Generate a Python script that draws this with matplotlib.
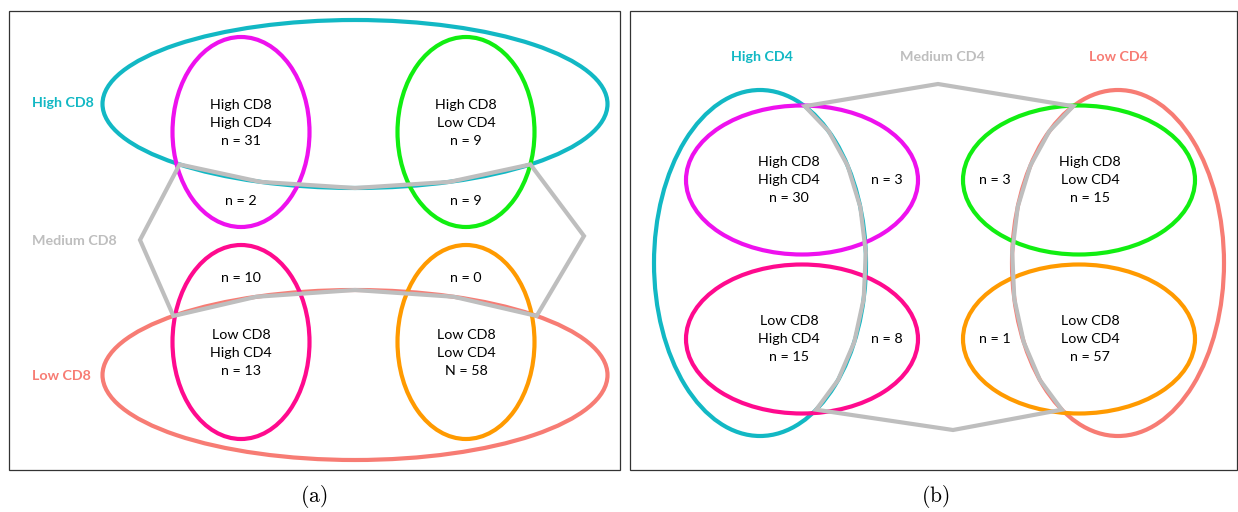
import numpy as np
import matplotlib
matplotlib.use("Agg")
import matplotlib.pyplot as plt
from matplotlib.patches import Ellipse, Rectangle, Polygon

# ---------------- data ----------------
a_group_labels = ["High CD8", "Medium CD8", "Low CD8"]
b_group_labels = ["High CD4", "Medium CD4", "Low CD4"]

# panel (a): columns = High CD4, Low CD4
a_high_cd8 = [31, 9]
a_medium_upper = [2, 9]
a_medium_lower = [10, 0]
a_low_cd8 = [13, 58]
a_cell_titles_top = ["High CD8\nHigh CD4", "High CD8\nLow CD4"]
a_cell_titles_bottom = ["Low CD8\nHigh CD4", "Low CD8\nLow CD4"]
a_n_symbol_bottom = ["n", "N"]

# panel (b): rows = High CD8, Low CD8
b_high_cd8 = [30, 15]
b_medium_top = [3, 3]
b_low_cd8 = [15, 57]
b_medium_bottom = [8, 1]
b_cell_titles_top = ["High CD8\nHigh CD4", "High CD8\nLow CD4"]
b_cell_titles_bottom = ["Low CD8\nHigh CD4", "Low CD8\nLow CD4"]

# ---------------- styles ----------------
C_CYAN = "#12B8C4"
C_SALMON = "#F77C74"
C_GRAY = "#BEBEBE"
C_MAG = "#EE11EE"
C_GREEN = "#11EE11"
C_PINK = "#FF0A8E"
C_ORANGE = "#FF9A00"
LW = 3.0
FONT = "Lato"
FS = 10.3

fig = plt.figure(figsize=(12.38, 5.12), dpi=100)
ax = fig.add_axes([0, 0, 1, 1])
ax.set_xlim(0, 1238)
ax.set_ylim(512, 0)
ax.axis("off")


def ell(cx, cy, w, h, color, z=2):
    ax.add_patch(Ellipse((cx, cy), w, h, fill=False, ec=color, lw=LW, zorder=z))


def ell_pts(cx, cy, w, h, t):
    return np.column_stack([cx + w / 2 * np.cos(t), cy + h / 2 * np.sin(t)])


def txt(x, y, s, color="black", bold=False, ha="center"):
    ax.text(x, y, s, ha=ha, va="center", fontsize=FS, family=FONT, color=color,
            fontweight="bold" if bold else "normal", linespacing=1.6,
            multialignment="center", zorder=5)


# ---------------- panel (a) ----------------
ax.add_patch(Rectangle((8.5, 10.5), 611, 459, fill=False, ec="#333333", lw=0.9, zorder=1))

big_a = dict(cx=355, w=505, h=168)
hi_cy, lo_cy = 104, 375
col_x = [241, 466]
ell(big_a["cx"], hi_cy, big_a["w"], big_a["h"], C_CYAN)
ell(big_a["cx"], lo_cy, big_a["w"], 170, C_SALMON)
small_colors_a = [[C_MAG, C_GREEN], [C_PINK, C_ORANGE]]
for j, x in enumerate(col_x):
    ell(x, 132, 137, 190, small_colors_a[0][j], z=3)
    ell(x, 342, 137, 194, small_colors_a[1][j], z=3)

# medium CD8 polygon: bottom arc of high ellipse, top arc of low ellipse
t_top = np.linspace(np.deg2rad(134), np.deg2rad(46), 5)
arc_hi = ell_pts(big_a["cx"], hi_cy, big_a["w"], big_a["h"], t_top)
t_bot = np.linspace(np.deg2rad(-44), np.deg2rad(-136), 5)
arc_lo = ell_pts(big_a["cx"], lo_cy, big_a["w"], 170, t_bot)
poly = np.vstack([arc_hi, [[584, 236]], arc_lo, [[140, 240]]])
ax.add_patch(Polygon(poly, closed=True, fill=False, ec=C_GRAY, lw=LW, joinstyle="miter", zorder=4))

for j, x in enumerate(col_x):
    txt(x, 123, f"{a_cell_titles_top[j]}\nn = {a_high_cd8[j]}")
    txt(x, 201, f"n = {a_medium_upper[j]}")
    txt(x, 278, f"n = {a_medium_lower[j]}")
    txt(x, 353, f"{a_cell_titles_bottom[j]}\n{a_n_symbol_bottom[j]} = {a_low_cd8[j]}")

txt(32, 103, a_group_labels[0], C_CYAN, True, "left")
txt(32, 241, a_group_labels[1], C_GRAY, True, "left")
txt(32, 376, a_group_labels[2], C_SALMON, True, "left")

# ---------------- panel (b) ----------------
ax.add_patch(Rectangle((629.5, 10.5), 607, 459, fill=False, ec="#333333", lw=0.9, zorder=1))

bcx = [760, 1118]
bcy = 263
bw, bh = 212, 346
ell(bcx[0], bcy, bw, bh, C_CYAN)
ell(bcx[1], bcy, bw, bh, C_SALMON)
scx = [802, 1079]
row_y = [180, 339]
small_colors_b = [[C_MAG, C_GREEN], [C_PINK, C_ORANGE]]
for i, y in enumerate(row_y):
    for j, x in enumerate(scx):
        ell(x, y, 232, 149, small_colors_b[i][j], z=3)

# medium CD4 polygon: right arc of high ellipse, left arc of low ellipse
t_r = np.linspace(np.deg2rad(-65), np.deg2rad(58), 9)
arc_r = ell_pts(bcx[0], bcy, bw, bh, t_r)
t_l = np.linspace(np.deg2rad(122), np.deg2rad(245), 9)
arc_l = ell_pts(bcx[1], bcy, bw, bh, t_l)
poly_b = np.vstack([arc_r, [[953, 430]], arc_l, [[938, 84]]])
ax.add_patch(Polygon(poly_b, closed=True, fill=False, ec=C_GRAY, lw=LW, joinstyle="miter", zorder=4))

b_text_x = [789, 1090]
b_mid_x = [887, 995]
for j in range(2):
    txt(b_text_x[j], 180, f"{b_cell_titles_top[j]}\nn = {b_high_cd8[j]}")
    txt(b_text_x[j], 339, f"{b_cell_titles_bottom[j]}\nn = {b_low_cd8[j]}")
    txt(b_mid_x[j], 180, f"n = {b_medium_top[j]}")
    txt(b_mid_x[j], 339, f"n = {b_medium_bottom[j]}")

txt(762, 57, b_group_labels[0], C_CYAN, True)
txt(942, 57, b_group_labels[1], C_GRAY, True)
txt(1118, 57, b_group_labels[2], C_SALMON, True)

# captions
plt.rcParams["mathtext.fontset"] = "cm"
ax.text(314, 497, r"$\mathrm{(a)}$", ha="center", va="center", fontsize=15.5)
ax.text(935, 497, r"$\mathrm{(b)}$", ha="center", va="center", fontsize=15.5)

fig.savefig("out.png", dpi=100)
